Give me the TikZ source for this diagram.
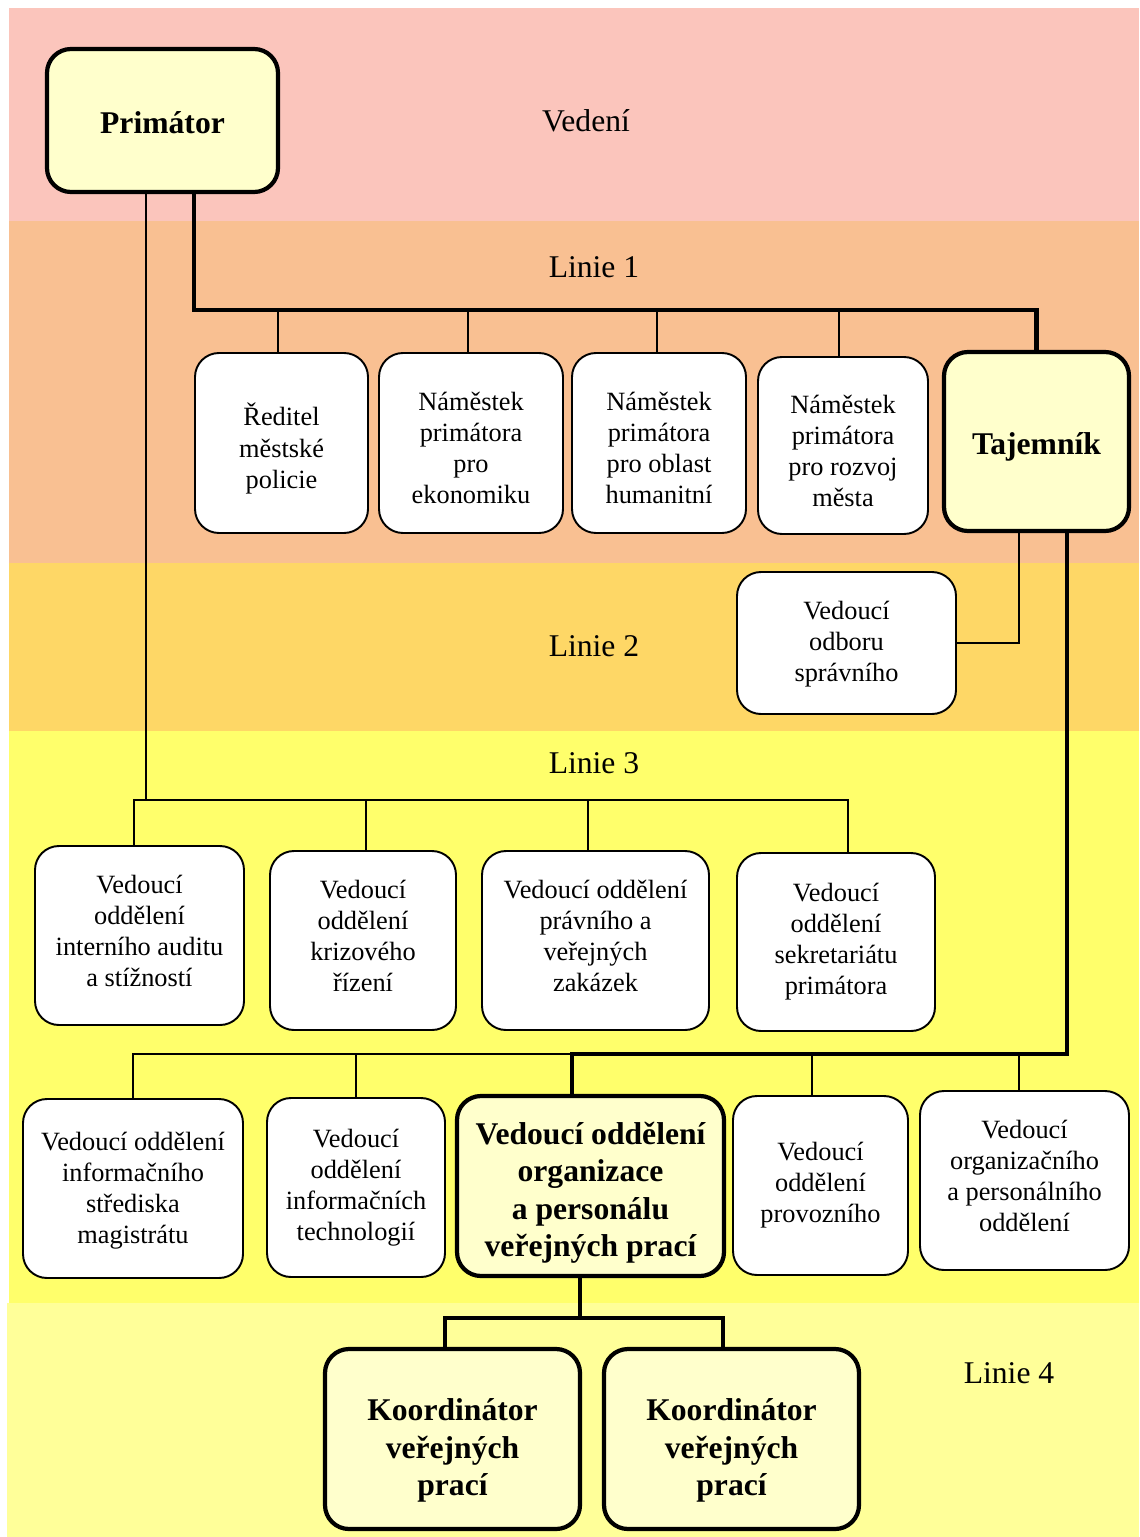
\documentclass[tikz,border=0pt]{standalone}
\usepackage{fontspec}
\setmainfont{Liberation Serif}
\usetikzlibrary{calc}
\definecolor{cVed}{HTML}{FBC5BC}
\definecolor{cLa}{HTML}{F9C092}
\definecolor{cLb}{HTML}{FED766}
\definecolor{cLc}{HTML}{FFFF6B}
\definecolor{cLd}{HTML}{FFFF99}
\definecolor{boxY}{HTML}{FFFFCC}
\newcommand\tl[2]{\raisebox{#1}[\height][\depth]{\begin{tabular}{@{}c@{}}#2\end{tabular}}}
\tikzset{
  wh/.style 2 args={minimum width=#1*0.02cm, minimum height=#2*0.02cm},
  box/.style={draw, line width=1.1pt, rounded corners=0.48cm, fill=white, inner sep=2pt,
    font=\fontsize{15}{17.7}\selectfont},
  bbox/.style={box, line width=2.4pt, fill=boxY, font=\fontsize{18}{21.2}\selectfont\bfseries},
  thinline/.style={line width=1.1pt},
  thkline/.style={line width=2.4pt},
  lbl/.style={font=\fontsize{18}{21}\selectfont, inner sep=0pt}
}
\begin{document}
\begin{tikzpicture}[x=0.02cm,y=-0.02cm]
\useasboundingbox (0,0) rectangle (1139,1537);
\fill[white] (0,0) rectangle (1139,1537);
% bands
\fill[cVed] (9,8) rectangle (1139,221);
\fill[cLa] (9,221) rectangle (1139,563);
\fill[cLb] (9,563) rectangle (1139,731);
\fill[cLc] (9,731) rectangle (1139,1303);
\fill[cLd] (7,1303) rectangle (1139,1537);
% labels
\node[lbl] (lv) at (586,121) {Vedení};
\node[lbl] (l1) at (594,267) {Linie 1};
\node[lbl] (l2) at (594,646) {Linie 2};
\node[lbl] (l3) at (594,763) {Linie 3};
\node[lbl] (l4) at (1009,1373) {Linie 4};
% nodes
\node[bbox, wh={231}{143}] (prim) at (162.5,120.5) {\tl{-3.4pt}{Primátor}};
\node[box, wh={173}{180}] (red) at (281.5,443) {\tl{-4.2pt}{Ředitel\\městské\\policie}};
\node[box, wh={184}{180}] (ek) at (471,443) {\tl{-4.4pt}{Náměstek\\primátora\\pro\\ekonomiku}};
\node[box, wh={174}{180}] (hum) at (659,443) {\tl{-4.4pt}{Náměstek\\primátora\\pro oblast\\humanitní}};
\node[box, wh={170}{177}] (roz) at (843,445.5) {\tl{-4.8pt}{Náměstek\\primátora\\pro rozvoj\\města}};
\node[bbox, wh={185}{179}] (taj) at (1036.5,441.5) {\tl{-3.2pt}{Tajemník}};
\node[box, wh={219}{142}] (odb) at (846.5,643) {\tl{-0.6pt}{Vedoucí\\odboru\\správního}};
\node[box, wh={209}{179}] (aud) at (139.5,935.5) {\tl{1.1pt}{Vedoucí\\oddělení\\interního auditu\\a stížností}};
\node[box, wh={186}{179}] (kriz) at (363,940.5) {\tl{1.1pt}{Vedoucí\\oddělení\\krizového\\řízení}};
\node[box, wh={227}{179}] (prav) at (595.5,940.5) {\tl{1.1pt}{Vedoucí oddělení\\právního a\\veřejných\\zakázek}};
\node[box, wh={198}{178}] (sek) at (836,942) {\tl{0pt}{Vedoucí\\oddělení\\sekretariátu\\primátora}};
\node[box, wh={220}{179}] (info) at (133,1188.5) {\tl{-1.1pt}{Vedoucí oddělení\\informačního\\střediska\\magistrátu}};
\node[box, wh={178}{179}] (it) at (356,1187.5) {\tl{0pt}{Vedoucí\\oddělení\\informačních\\technologií}};
\node[bbox, wh={267}{180}] (org) at (590.5,1186) {\tl{-4pt}{Vedoucí oddělení\\organizace\\a personálu\\veřejných prací}};
\node[box, wh={175}{179}] (prov) at (820.5,1185.5) {\tl{0pt}{Vedoucí\\oddělení\\provozního}};
\node[box, wh={209}{179}] (orp) at (1024.5,1180.5) {\tl{1.1pt}{Vedoucí\\organizačního\\a personálního\\oddělení}};
\node[bbox, wh={255}{180}] (ko1) at (452.5,1439) {\tl{-6.6pt}{Koordinátor\\veřejných\\prací}};
\node[bbox, wh={255}{180}] (ko2) at (731.5,1439) {\tl{-6.6pt}{Koordinátor\\veřejných\\prací}};
% coordinates
\coordinate (p1) at (194,310);
\coordinate (b1a) at (278,310);
\coordinate (b1b) at (468,310);
\coordinate (b1c) at (657,310);
\coordinate (b1d) at (839,310);
\coordinate (p3) at (146,800);
\coordinate (b3a) at (134,800);
\coordinate (b3b) at (366,800);
\coordinate (b3c) at (588,800);
\coordinate (b3d) at (848,800);
\coordinate (t2) at (1019,641);
\coordinate (t4) at (1067,1054);
\coordinate (o4) at (572,1054);
\coordinate (b4a) at (133,1054);
\coordinate (b4b) at (356,1054);
\coordinate (b4d) at (812,1054);
\coordinate (b4e) at (1019,1054);
\coordinate (k0) at (580,1318);
\coordinate (k1) at (445,1318);
\coordinate (k2) at (723,1318);
% connectors line 1
\draw[thinline] (b1a) -- (b1a |- red.north);
\draw[thinline] (b1b) -- (b1b |- ek.north);
\draw[thinline] (b1c) -- (b1c |- hum.north);
\draw[thinline] (b1d) -- (b1d |- roz.north);
\draw[thkline] (p1 |- prim.south) -- (p1) -| (taj.north);
% line 2
\draw[thinline] (t2 |- taj.south) |- (odb.east);
% line 3
\draw[thinline] (p3 |- prim.south) -- (p3);
\draw[thinline] (b3a |- aud.north) -- (b3a) -- (b3d) -- (b3d |- sek.north);
\draw[thinline] (b3b) -- (b3b |- kriz.north);
\draw[thinline] (b3c) -- (b3c |- prav.north);
% row 4
\draw[thinline] (b4a |- info.north) -- (b4a) -- (b4e) -- (b4e |- orp.north);
\draw[thinline] (b4b) -- (b4b |- it.north);
\draw[thinline] (b4d) -- (b4d |- prov.north);
\draw[thkline] (t4 |- taj.south) -- (t4) -- (o4) -- (o4 |- org.north);
% line 4
\draw[thkline] (k0 |- org.south) -- (k0);
\draw[thkline] (k1 |- ko1.north) -- (k1) -- (k2) -- (k2 |- ko2.north);
\end{tikzpicture}
\end{document}
